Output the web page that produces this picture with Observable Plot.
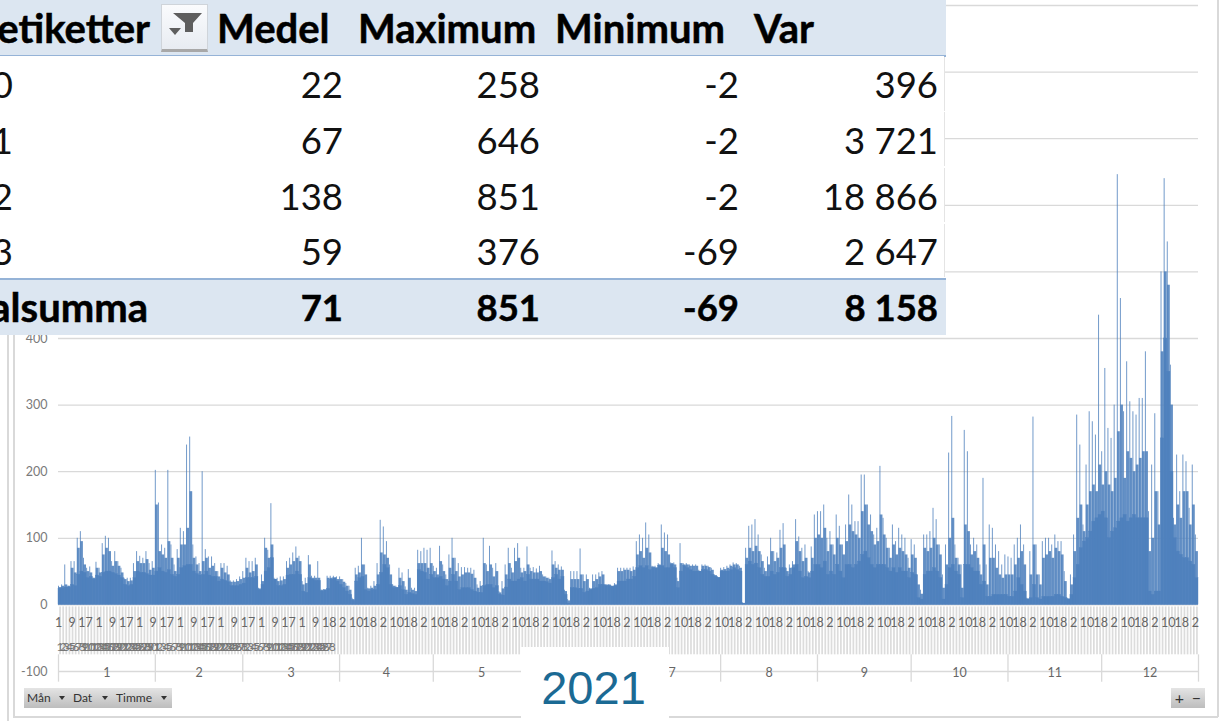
<!DOCTYPE html>
<html><head><meta charset="utf-8">
<script src="https://cdn.jsdelivr.net/npm/d3@7"></script>
<script src="https://cdn.jsdelivr.net/npm/@observablehq/plot@0.6"></script>
<style>
html,body{margin:0;padding:0;background:#fff;overflow:hidden}
#stage{position:relative;width:1230px;height:721px;overflow:hidden;font-family:Lato,sans-serif}
#stage svg{position:absolute;left:0;top:0}
.t{position:absolute;white-space:nowrap;color:#111;font-size:36.5px;line-height:44px;font-family:Lato,sans-serif}
.r{transform:translateX(-100%)}
.b{font-weight:700;-webkit-text-stroke:0.5px #000;color:#000}
.h{font-size:40px}
.box{position:absolute}
.btn{position:absolute;top:688px;height:20px;background:linear-gradient(#e4e4e4,#bdbdbd);font-size:12px;line-height:20px;color:#333;padding-left:3px;box-sizing:border-box}
.btn i{position:absolute;right:5px;top:8px;width:0;height:0;border:3px solid transparent;border-top:4px solid #333}
</style></head><body><div id="stage"></div>
<script>
// Per month: daily peak, daily upper mass, daily solid base
const peakJan=[28,30,60,28,65,65,100,110,70,55,57,40,64,55,92,103,100,65,80,65,55,40,40,40,62,80,73,70,80,62,65];
const upperJan=[26,28,30,28,55,48,85,95,60,50,48,40,55,48,75,85,80,58,65,58,48,38,35,36,50,65,62,62,68,52,55];
const baseJan=[24,25,26,26,30,28,45,50,48,40,42,38,44,42,48,50,50,48,46,44,40,30,28,30,40,50,48,48,46,44,44];
const peakFeb=[202,153,90,85,202,90,60,83,115,110,240,252,90,72,62,200,83,72,72,62,50,62,62,58,36,36,38,42];
const upperFeb=[150,80,75,70,95,70,50,70,90,90,115,170,70,60,50,65,70,55,58,50,42,55,48,45,34,34,35,38];
const baseFeb=[50,55,50,48,52,45,42,45,55,58,60,60,50,46,44,45,50,44,42,42,35,38,36,34,28,28,28,30];
const peakMar=[50,70,65,65,70,25,45,100,82,152,40,40,42,42,65,70,78,87,73,35,40,74,43,43,65,22,22,43,43,43,42];
const upperMar=[40,55,48,50,60,24,35,85,70,90,38,35,36,38,55,60,65,70,65,30,32,60,40,40,40,22,22,40,40,40,38];
const baseMar=[32,40,40,40,42,22,30,50,55,70,38,28,28,30,44,45,45,50,45,20,18,40,38,36,36,20,22,24,38,40,35];
const peakApr=[42,38,32,28,10,55,58,100,60,25,28,35,62,127,117,95,60,30,28,55,48,27,53,25,25,82,80,85,82,85];
const upperApr=[38,34,28,22,8,45,48,60,45,24,25,28,45,78,75,70,45,28,26,40,35,22,40,22,20,62,62,62,55,62];
const baseApr=[30,25,20,15,6,35,40,42,22,20,22,22,30,48,60,55,30,25,25,28,22,15,18,16,15,52,50,48,38,45];
const peakMay=[58,55,88,60,45,75,100,70,62,56,56,55,55,52,30,35,100,60,88,55,62,20,35,60,85,55,85,92,55,55,87];
const upperMay=[50,45,65,50,38,55,70,50,42,45,48,48,46,40,25,28,62,50,60,42,50,18,24,45,62,48,65,70,48,50,60];
const baseMay=[40,40,42,38,28,35,45,35,22,25,25,25,22,20,18,18,28,30,30,25,28,15,14,26,38,35,35,38,40,35,45];
const peakJun=[55,56,54,58,45,42,40,81,65,60,57,22,8,50,50,50,84,45,45,25,45,45,48,50,30,30,28,32,55,55];
const upperJun=[50,48,48,50,42,40,38,60,55,52,52,20,6,38,38,38,45,35,38,24,35,38,42,45,30,30,28,30,50,50];
const baseJun=[38,38,38,35,35,34,32,40,45,38,42,15,2,25,25,24,24,18,20,22,24,25,30,30,28,28,27,28,35,35];
const peakJul=[55,55,55,57,95,105,100,123,105,58,58,62,120,108,105,63,63,40,92,62,62,60,60,60,52,60,60,58,55,45,42];
const upperJul=[52,52,50,52,75,80,70,85,78,57,55,60,85,80,75,62,60,35,62,60,60,58,58,58,50,58,58,56,52,44,41];
const baseJul=[35,38,38,42,55,58,55,58,52,55,55,58,58,55,55,60,55,25,50,58,55,52,50,50,50,52,52,50,45,42,40];
const peakAug=[55,56,58,60,63,62,58,3,85,118,120,128,105,75,55,72,100,80,78,112,122,55,60,65,128,102,85,90,50,87,135];
const upperAug=[52,53,55,58,60,60,55,2,70,85,80,88,80,65,50,60,80,65,70,85,90,50,55,60,95,80,65,70,48,70,100];
const baseAug=[50,50,50,52,55,52,50,2,60,65,60,62,55,45,42,42,50,45,48,55,55,42,45,55,60,50,40,42,40,50,60];
const peakSep=[140,140,150,100,110,90,135,118,90,120,165,150,125,125,195,195,150,135,105,115,208,130,100,85,120,95,115,105,100,70];
const upperSep=[105,100,115,80,90,75,100,90,75,95,120,110,105,100,140,150,120,110,90,95,135,105,85,70,90,75,85,80,75,55];
const baseSep=[60,55,65,45,50,45,60,50,40,60,60,55,60,65,75,80,70,60,55,60,60,60,55,50,55,48,55,50,50,40];
const peakOct=[98,90,45,22,105,105,110,145,128,90,45,90,228,283,90,70,60,262,230,90,100,90,60,190,60,120,115,90,80,60,75];
const upperOct=[75,70,30,16,85,80,85,100,90,75,25,60,100,130,70,60,25,120,110,75,80,70,45,90,30,70,70,55,45,40,45];
const baseOct=[48,45,10,8,45,50,50,55,50,40,8,30,55,60,50,45,10,60,60,55,50,50,30,35,12,12,15,15,15,15,15];
const peakNov=[72,70,90,100,120,90,10,80,282,90,45,95,100,100,90,105,95,95,50,10,45,105,285,240,120,210,290,275,255,435];
const upperNov=[45,45,60,70,80,60,9,45,90,45,30,70,75,80,70,85,80,75,35,9,30,80,130,150,110,150,170,180,170,210];
const baseNov=[12,12,20,40,30,20,8,10,30,10,8,12,12,12,12,15,15,12,10,8,15,40,60,85,95,100,110,125,130,135];
const peakDec=[230,355,265,250,300,646,460,290,365,305,290,285,310,310,380,140,210,287,170,500,640,545,360,130,225,170,225,215,145,210,105];
const upperDec=[180,200,180,170,190,260,300,190,230,220,200,210,220,230,230,80,100,170,120,380,500,480,300,120,150,130,170,170,120,150,80];
const baseDec=[140,130,100,110,115,125,130,135,125,130,135,130,130,130,130,20,15,20,20,250,400,350,200,100,80,75,70,70,65,60,40];

const monthLabels=["1","2","3","4","5","6","7","8","9","10","11","12"];
const monthPeaks=[peakJan,peakFeb,peakMar,peakApr,peakMay,peakJun,peakJul,peakAug,peakSep,peakOct,peakNov,peakDec];
const monthUppers=[upperJan,upperFeb,upperMar,upperApr,upperMay,upperJun,upperJul,upperAug,upperSep,upperOct,upperNov,upperDec];
const monthBases=[baseJan,baseFeb,baseMar,baseApr,baseMay,baseJun,baseJul,baseAug,baseSep,baseOct,baseNov,baseDec];
const yTicks=[-100,0,100,200,300,400,500,600,700,800,900];
const hourCycleEarly=["1","9","17"];
const hourCycleLate=["2","10","18"];

// Pivot table
const tableHeaders=["Medel","Maximum","Minimum","Var"];
const rowLabels=["0","1","2","3"];
const colMedel=["22","67","138","59"];
const colMax=["258","646","851","376"];
const colMin=["-2","-2","-2","-69"];
const colVar=["396","3 721","18 866","2 647"];
const totals=["71","851","-69","8 158"];
const yearLabel="2021";

// Build tables from the arrays
const days=[];
monthPeaks.forEach((m,mi)=>m.forEach((p,i)=>days.push({day:days.length,peak:p,upper:monthUppers[mi][i],base:monthBases[mi][i],month:mi,date:i+1})));
let acc=0;
const months=monthLabels.map((l,i)=>{const s=acc;acc+=monthPeaks[i].length;return {label:l,start:s,end:acc,mid:(s+acc)/2};});
const hourTicks=d3.range(85).map(i=>({x:i*13/3,label:i<20?hourCycleEarly[i%3]:i===20?"18":hourCycleLate[(i-21)%3]}));
const dateTicks=days.filter(d=>d.month<2||(d.month===2&&d.date<=28));
const visibleMonths=months.filter(m=>m.label!=="6");

const gray="#7a7a7a",grid="#d9d9d9",blue="#4f81bd";
const chart=Plot.plot({
  width:1230,height:721,marginLeft:58,marginRight:32,marginTop:5,marginBottom:50,
  style:{background:"transparent",overflow:"visible"},
  x:{domain:[0,365],axis:null},
  y:{domain:[-100,900],axis:null},
  marks:[
    Plot.ruleY(yTicks,{stroke:grid,strokeWidth:1.3}),
    Plot.axisY({ticks:yTicks,tickSize:0,tickPadding:11,fontSize:12.5,fontFamily:"Lato",color:gray,label:null,tickFormat:d=>String(d).replace("−","-"),stroke:gray}),
    Plot.ruleX(days,{x:d=>d.day+0.5,y1:-3,y2:-75,stroke:"#dcdcdc",strokeWidth:1.7}),
    Plot.ruleX(days,{x:"day",y1:0,y2:"peak",stroke:blue,strokeOpacity:0.8,strokeWidth:1}),
    Plot.rect(days,{x1:"day",x2:d=>d.day+1,y1:0,y2:"upper",fill:blue,fillOpacity:0.88,insetLeft:0.3,insetRight:0.1}),
    Plot.rect(days,{x1:"day",x2:d=>d.day+1,y1:0,y2:"base",fill:blue,stroke:blue,strokeWidth:0.4}),
    Plot.ruleX(months.concat({start:365}),{x:"start",y1:-75,y2:-116,stroke:grid,strokeWidth:1.3}),
    Plot.text(hourTicks,{x:"x",y:-27,text:"label",fontSize:12.5,fontFamily:"Lato",fill:"#666"}),
    Plot.text(dateTicks,{x:d=>d.day+0.5,y:-63,text:d=>String(d.date),fontSize:12,fontFamily:"Lato",fill:"#777"}),
    Plot.text(visibleMonths,{x:"mid",y:-102,text:"label",fontSize:12.5,fontFamily:"Lato",fill:"#666"})
  ]
});
const stage=document.getElementById("stage");
stage.appendChild(chart);

function box(l,t,w,h,bg){const e=document.createElement("div");e.className="box";e.style.cssText=`left:${l}px;top:${t}px;width:${w}px;height:${h}px;background:${bg}`;stage.appendChild(e);return e;}
function txt(s,x,cy,cls){const e=document.createElement("div");e.className="t "+(cls||"");e.textContent=s;e.style.left=x+"px";e.style.top=(cy-23.5)+"px";stage.appendChild(e);return e;}

// frame
box(7,335,1.5,386,grid);box(13,335,1.5,382,grid);box(13,716,1205,1.5,grid);box(1217,0,1.5,717,grid);
// year box
box(521,647,148,74,"#fff");
const yr=txt(yearLabel,593.5,689.5,"");yr.style.cssText+="font-family:'Liberation Sans',Arial,sans-serif;font-size:47px;color:#1b6a94;transform:translateX(-50%)";

// pivot table
box(0,0,946,55,"#dce6f1");box(0,55,946,1.5,"#95b3d7");
box(0,56,944,222,"#fff");
[[57,54],[112,54],[168,54],[224,53]].forEach(([t,h])=>box(943.5,t,1.6,h,"#e4e4e4"));
box(0,278,946,57,"#dce6f1");box(0,278,946,1.5,"#95b3d7");
const filt=box(161,4,47,48,"linear-gradient(#fafbfd,#e8ecf2)");filt.style.boxSizing="border-box";filt.style.border="1px solid #cfd4da";filt.style.borderBottom="3px solid #a8a8a8";
filt.innerHTML='<svg width="47" height="44" style="left:-1px;top:-1px"><path d="M12 9H41L32 19V28H24V19Z" fill="#5e5e5e"/><path d="M8 24H20L14 31Z" fill="#5e5e5e"/></svg>';

txt("Radetiketter",150,29,"b h r");
const headX=[217,358,555,754];
tableHeaders.forEach((h,i)=>txt(h,headX[i],29,"b h"));
const rowY=[85,141,197,252];
const colRight=[343,540,739,938];
[colMedel,colMax,colMin,colVar].forEach((c,ci)=>c.forEach((v,ri)=>txt(v,colRight[ci],rowY[ri],"r")));
rowLabels.forEach((v,ri)=>txt(v,13,rowY[ri],"r"));
txt("Totalsumma",148,308,"b h r");
totals.forEach((v,ci)=>txt(v,colRight[ci],308,"b r"));

// pivot field buttons
[["Mån",24,46],["Dat",70,43],["Timme",113,59]].forEach(([s,l,w])=>{const e=document.createElement("div");e.className="btn";e.style.left=l+"px";e.style.width=w+"px";e.innerHTML=s+"<i></i>";stage.appendChild(e);});
[["+",1171],["−",1188]].forEach(([s,l])=>{const e=document.createElement("div");e.className="btn";e.style.cssText+=`left:${l}px;width:17px;padding:0;text-align:center;font-size:16px`;e.textContent=s;stage.appendChild(e);});
</script></body></html>
